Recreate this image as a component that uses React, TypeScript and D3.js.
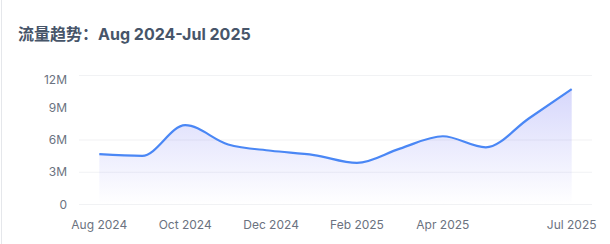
import React from "react";
import * as d3 from "d3";

const months = ["Aug 2024","Sep 2024","Oct 2024","Nov 2024","Dec 2024","Jan 2025","Feb 2025","Mar 2025","Apr 2025","May 2025","Jun 2025","Jul 2025"];
const traffic = [4.68, 4.52, 7.38, 5.58, 5.0, 4.6, 3.87, 5.2, 6.35, 5.32, 8.0, 10.73].map(v => v * 1e6);
const xTickLabels = ["Aug 2024","Oct 2024","Dec 2024","Feb 2025","Apr 2025","Jul 2025"];
const yTicks = [0, 3e6, 6e6, 9e6, 12e6];
const gridTicks = [0, 3e6, 6e6, 12e6];
const title = "流量趋势：Aug 2024-Jul 2025";

const W = 610, H = 244;
const fontFamily = "Inter, 'Noto Sans CJK SC', sans-serif";

export default function App() {
  const x = d3.scalePoint<string>().domain(months).range([99.3, 571.7]);
  const y = d3.scaleLinear().domain([0, 12e6]).range([204.5, 75.5]);
  const line = d3.line<number>().x((_, i) => x(months[i])!).y(d => y(d)).curve(d3.curveMonotoneX);
  const area = d3.area<number>().x((_, i) => x(months[i])!).y0(y(0)).y1(d => y(d)).curve(d3.curveMonotoneX);
  const fmt = (v: number) => (v === 0 ? "0" : `${v / 1e6}M`);
  return (
    <svg width={W} height={H} style={{ position: "fixed", left: 0, top: 0, background: "#fff" }} fontFamily={fontFamily}>
      <defs>
        <linearGradient id="areaGrad" x1="0" y1="0" x2="0" y2="1">
          <stop offset="0%" stopColor="#6366f1" stopOpacity={0.26} />
          <stop offset="100%" stopColor="#6366f1" stopOpacity={0} />
        </linearGradient>
      </defs>
      <line x1={1.5} x2={1.5} y1={0} y2={H} stroke="#e5e7eb" strokeWidth={1} />
      <text x={18} y={39.5} fontSize={16} fontWeight={700} fill="#475569">{title}</text>
      {gridTicks.map(t => (
        <line key={t} x1={79} x2={592} y1={y(t)} y2={y(t)} stroke="#f1f2f4" strokeWidth={1.2} />
      ))}
      {yTicks.map(t => (
        <text key={t} x={67} y={y(t) + (t === 12e6 ? 4.5 : 0)} dy="0.35em" textAnchor="end" fontSize={12} fill="#6b7280">{fmt(t)}</text>
      ))}
      {xTickLabels.map(m => (
        <text key={m} x={x(m)!} y={229} textAnchor="middle" fontSize={12} fill="#6b7280">{m}</text>
      ))}
      <path d={area(traffic) || ""} fill="url(#areaGrad)" />
      <path d={line(traffic) || ""} fill="none" stroke="#4a87f5" strokeWidth={2.2} />
    </svg>
  );
}
